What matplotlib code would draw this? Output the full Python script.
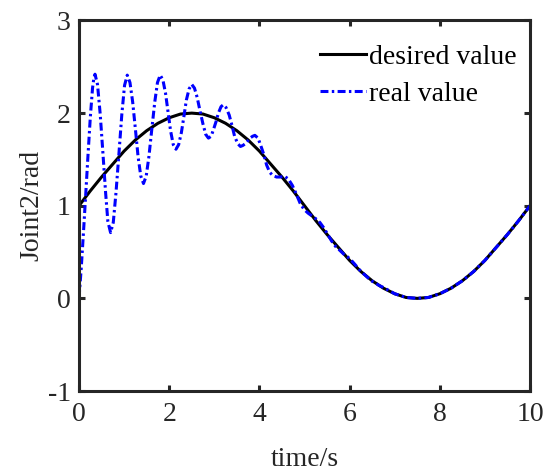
import matplotlib
matplotlib.use("Agg")
import matplotlib.pyplot as plt

plt.rcParams['font.family'] = ['Liberation Serif', 'DejaVu Serif']
plt.rcParams['axes.unicode_minus'] = False

# desired joint trajectory, sampled every 0.25 s
desired_time = [0.00, 0.25, 0.50, 0.75, 1.00, 1.25, 1.50, 1.75, 2.00, 2.25,
                2.50, 2.75, 3.00, 3.25, 3.50, 3.75, 4.00, 4.25, 4.50, 4.75,
                5.00, 5.25, 5.50, 5.75, 6.00, 6.25, 6.50, 6.75, 7.00, 7.25,
                7.50, 7.75, 8.00, 8.25, 8.50, 8.75, 9.00, 9.25, 9.50, 9.75,
                10.00]
desired_value = [1.00, 1.16, 1.31, 1.45, 1.59, 1.71, 1.81, 1.89, 1.95, 1.99,
                 2.00, 1.99, 1.95, 1.89, 1.81, 1.71, 1.59, 1.45, 1.31, 1.16,
                 1.00, 0.84, 0.69, 0.55, 0.41, 0.29, 0.19, 0.11, 0.05, 0.01,
                 0.00, 0.01, 0.05, 0.11, 0.19, 0.29, 0.41, 0.55, 0.69, 0.84,
                 1.00]

# measured joint angle (oscillates before settling on the reference)
real_time = [0.00, 0.05, 0.10, 0.15, 0.20, 0.25, 0.30, 0.33,
             0.355, 0.41, 0.47, 0.53, 0.59, 0.64, 0.70,
             0.76, 0.82, 0.885, 0.95, 1.01, 1.07,
             1.13, 1.19, 1.25, 1.31, 1.37, 1.43,
             1.49, 1.55, 1.615, 1.68, 1.74, 1.80,
             1.86, 1.92, 1.975, 2.03, 2.09, 2.15,
             2.21, 2.27, 2.325, 2.38, 2.44, 2.50,
             2.56, 2.62, 2.685, 2.75, 2.81, 2.87,
             2.93, 2.98, 3.04, 3.09, 3.15, 3.20,
             3.26, 3.33, 3.39, 3.45, 3.52, 3.58,
             3.63, 3.69, 3.74, 3.79, 3.85, 3.90,
             3.97, 4.03, 4.10, 4.16, 4.23, 4.29,
             4.38, 4.465, 4.55, 4.64, 4.73, 4.815, 4.90, 4.99,
             5.08, 5.165, 5.25, 5.34, 5.43, 5.515, 5.60, 5.69,
             5.78, 5.865, 5.95, 6.04, 6.13, 6.215, 6.30, 6.39,
             6.48, 6.565, 6.65, 6.74,
             7.00, 7.25, 7.50, 7.75, 8.00, 8.25, 8.50, 8.75,
             9.00, 9.25, 9.50, 9.75, 10.00]
real_value = [0.00, 0.33, 0.72, 1.13, 1.55, 1.95, 2.27, 2.38,
              2.42, 2.31, 1.99, 1.57, 1.14, 0.83, 0.71,
              0.82, 1.14, 1.56, 1.99, 2.30, 2.41,
              2.33, 2.12, 1.83, 1.53, 1.32, 1.24,
              1.32, 1.53, 1.83, 2.12, 2.33, 2.41,
              2.36, 2.21, 2.01, 1.81, 1.66, 1.61,
              1.66, 1.79, 1.96, 2.14, 2.26, 2.31,
              2.27, 2.17, 2.02, 1.88, 1.77, 1.73,
              1.75, 1.82, 1.91, 2.00, 2.07, 2.09,
              2.06, 1.98, 1.87, 1.75, 1.67, 1.64,
              1.65, 1.67, 1.70, 1.73, 1.75, 1.76,
              1.73, 1.65, 1.55, 1.44, 1.36, 1.33,
              1.31, 1.31, 1.32, 1.29, 1.22, 1.13, 1.03, 0.96,
              0.92, 0.89, 0.86, 0.82, 0.76, 0.69, 0.62, 0.56,
              0.52, 0.48, 0.45, 0.41, 0.36, 0.31, 0.27, 0.23,
              0.19, 0.17, 0.14, 0.12,
              0.05, 0.01, 0.00, 0.01, 0.05, 0.11, 0.19, 0.29,
              0.41, 0.55, 0.69, 0.84, 1.00]

x_ticks = [0, 2, 4, 6, 8, 10]
y_ticks = [-1, 0, 1, 2, 3]

axis_gray = (0.15, 0.15, 0.15)
fs = 20

fig = plt.figure(figsize=(5.49, 4.72), dpi=100)
ax = fig.add_axes([0.1439, 0.1716, 0.8215, 0.785])

ax.plot(desired_time, desired_value, color='black', lw=2.2, label='desired value')
ax.plot(real_time, real_value, color='blue', lw=2.2, linestyle=(0, (2.6, 1.1, 0.8, 1.1)),
        label='real value')

ax.set_xlim(0, 10)
ax.set_ylim(-1, 3)
ax.set_xticks(x_ticks)
ax.set_yticks(y_ticks)

for s in ax.spines.values():
    s.set_linewidth(2.2)
    s.set_color(axis_gray)
ax.tick_params(direction='in', top=True, right=True, length=4, width=2.2,
               color=axis_gray, labelsize=fs, labelcolor=axis_gray, pad=6)
ax.tick_params(axis='x', pad=8)

ax.set_xlabel('time/s', fontsize=fs, color=axis_gray, labelpad=14)
ax.set_ylabel('Joint2/rad', fontsize=fs, color=axis_gray, labelpad=2)

leg = ax.legend(loc='upper left', bbox_to_anchor=(0.535, 0.935), frameon=False,
                fontsize=fs, handlelength=1.65, handletextpad=0.1,
                labelspacing=0.42, borderpad=0, borderaxespad=0)

fig.savefig('out.png', dpi=100)
